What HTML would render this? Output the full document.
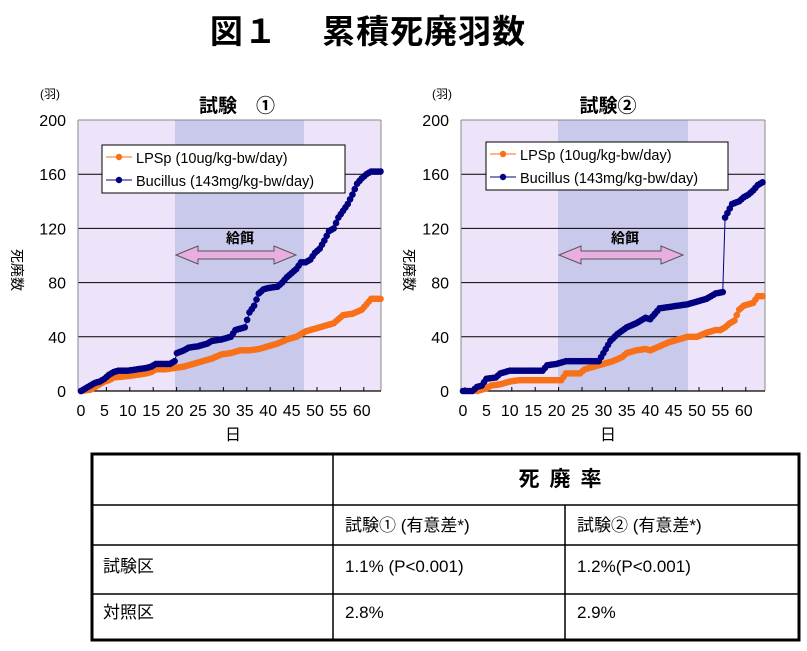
<!DOCTYPE html>
<html><head><meta charset="utf-8">
<style>
body{margin:0;background:#fff;width:807px;height:646px;overflow:hidden;font-family:"Liberation Sans","Noto Sans CJK JP",sans-serif;}
svg text{font-family:"Liberation Sans","Noto Sans CJK JP",sans-serif;}
</style></head>
<body>
<svg id="s" width="807" height="646" xmlns="http://www.w3.org/2000/svg">
<text x="368" y="43" font-size="33" font-weight="bold" text-anchor="middle" letter-spacing="1">図１　 累積死廃羽数</text>
<g id="c1"></g><g id="c2"></g>
<g stroke="#000" fill="none">
<rect x="92" y="454" width="707" height="186" stroke-width="3"/>
<line x1="92" y1="505" x2="799" y2="505" stroke-width="1.5"/>
<line x1="92" y1="545" x2="799" y2="545" stroke-width="1.5"/>
<line x1="92" y1="594" x2="799" y2="594" stroke-width="1.5"/>
<line x1="333" y1="454" x2="333" y2="640" stroke-width="1.5"/>
<line x1="565" y1="505" x2="565" y2="640" stroke-width="1.5"/>
</g>
<g font-size="17" font-family="'Liberation Mono','Noto Sans CJK JP',monospace">
<text x="565" y="486" font-size="21" font-weight="bold" text-anchor="middle" letter-spacing="10">死廃率</text>
<text x="345" y="531">試験① (有意差*)</text>
<text x="577" y="531">試験② (有意差*)</text>
<text x="103" y="572">試験区</text>
<text x="345" y="572">1.1% (P&lt;0.001)</text>
<text x="577" y="572">1.2%(P&lt;0.001)</text>
<text x="103" y="618">対照区</text>
<text x="345" y="618">2.8%</text>
<text x="577" y="618">2.9%</text>
</g>
</svg>
<script>
var NS="http://www.w3.org/2000/svg";
function el(p,t,a,txt){var e=document.createElementNS(NS,t);for(var k in a)e.setAttribute(k,a[k]);if(txt!=null)e.textContent=txt;p.appendChild(e);return e;}
function interp(kp,d){for(var i=0;i<kp.length-1;i++){if(d>=kp[i][0]&&d<=kp[i+1][0]){var a=kp[i],b=kp[i+1];return a[1]+(b[1]-a[1])*(d-a[0])/(b[0]-a[0]);}}return kp[kp.length-1][1];}
function chart(g,o){
 var L=o.L,R=o.R,T=120,B=391,x0=o.x0,dx=4.68,sy=(B-T)/200;
 el(g,"rect",{x:L,y:T,width:R-L,height:B-T,fill:"#eee4fa"});
 el(g,"rect",{x:o.s1,y:T,width:o.s2-o.s1,height:B-T,fill:"#c9c9eb"});
 [40,80,120,160].forEach(function(v){var y=B-v*sy;el(g,"line",{x1:L,y1:y,x2:R,y2:y,stroke:"#000","stroke-width":1});});
 el(g,"line",{x1:L,y1:T,x2:L,y2:B,stroke:"#888"});el(g,"line",{x1:R,y1:T,x2:R,y2:B,stroke:"#888"});
 el(g,"line",{x1:L,y1:T,x2:R,y2:T,stroke:"#888"});
 el(g,"line",{x1:L,y1:B,x2:R,y2:B,stroke:"#000","stroke-width":1.2});
 [0,40,80,120,160,200].forEach(function(v){el(g,"text",{x:L-12,y:B-v*sy+6,"font-size":16,"text-anchor":"end"},v);});
 for(var d=0;d<=60;d+=5){var x=x0+d*dx;el(g,"text",{x:x,y:416,"font-size":16,"text-anchor":"middle"},d);el(g,"line",{x1:x+2,y1:B,x2:x+2,y2:B-4,stroke:"#000"});}
 el(g,"text",{x:o.rx,y:440,"font-size":16,"text-anchor":"middle"},"日");
 el(g,"text",{x:o.ylx,y:98,"font-size":12},"(羽)");
 el(g,"text",{x:o.tx,y:112,"font-size":19,"font-weight":"bold","text-anchor":"middle"},o.title);
 el(g,"text",{x:0,y:0,"font-size":14,transform:"translate("+(o.vx)+",270) rotate(90)","text-anchor":"middle"},"死廃数");
 var a1=o.s1+1,a2=o.a2,y=255;
 el(g,"polygon",{points:[a1,y,a1+22,y-9,a1+22,y-4,a2-22,y-4,a2-22,y-9,a2,y,a2-22,y+9,a2-22,y+4,a1+22,y+4,a1+22,y+9].join(","),fill:"#e8aee0",stroke:"#555","stroke-width":1});
 el(g,"text",{x:(a1+a2)/2+4,y:243,"font-size":14,"font-weight":"bold","text-anchor":"middle"},"給餌");
 [[o.org,"#f87018"],[o.blu,"#000080"]].forEach(function(s){
  var kp=s[0],pts=[];for(var d=kp[0][0];d<=kp[kp.length-1][0]+0.01;d+=0.5){pts.push([x0+d*dx,B-interp(kp,d)*sy]);}
  el(g,"polyline",{points:pts.map(function(p){return p.join(",")}).join(" "),fill:"none",stroke:s[1],"stroke-width":1});
  pts.forEach(function(p){el(g,"circle",{cx:p[0],cy:p[1],r:3.3,fill:s[1]});});
 });
 var lx=o.lg[0],ly=o.lg[1];
 el(g,"rect",{x:lx,y:ly,width:o.lg[2],height:48,fill:"#fff",stroke:"#000"});
 el(g,"line",{x1:lx+4,y1:ly+12,x2:lx+30,y2:ly+12,stroke:"#f87018"});el(g,"circle",{cx:lx+17,cy:ly+12,r:3.2,fill:"#f87018"});
 el(g,"line",{x1:lx+4,y1:ly+35,x2:lx+30,y2:ly+35,stroke:"#000080"});el(g,"circle",{cx:lx+17,cy:ly+35,r:3.2,fill:"#000080"});
 el(g,"text",{x:lx+34,y:ly+18,"font-size":14.5},"LPSp (10ug/kg-bw/day)");
 el(g,"text",{x:lx+34,y:ly+41,"font-size":14.5},"Bucillus (143mg/kg-bw/day)");
}
chart(document.getElementById("c1"),{L:78,R:381,x0:81,s1:175,s2:304,a2:296,rx:233,ylx:40,tx:237,vx:12,title:"試験　①",lg:[102,145,243],
 org:[[0,0],[2,1],[3,3],[4,5],[5,7],[6,8],[7,10],[10,11],[12,12],[14,13],[15,14],[16,16],[18,16],[20,17],[22,18],[24,20],[26,22],[28,24],[30,27],[32,28],[34,30],[36,30],[38,31],[40,33],[42,35],[44,38],[46,40],[48,44],[50,46],[52,48],[54,50],[55,53],[56,56],[58,57],[60,60],[61,64],[62,68],[64,68]],
 blu:[[0,0],[1,2],[2,4],[3,6],[4,7],[5,9],[6,12],[7,14],[8,15],[10,15],[12,16],[14,17],[15,18],[16,20],[19,20],[20,22],[20.5,28],[22,30],[23,32],[25,33],[27,35],[28,37],[30,38],[32,40],[33,45],[35,47],[36,58],[37,63],[38,72],[39,75],[40,76],[42,77],[43,80],[44,84],[45,87],[46,90],[47,95],[48,95],[49,97],[50,102],[51,105],[52,111],[53,118],[54,120],[55,128],[56,133],[57,138],[58,145],[59,153],[60,157],[61,160],[62,162],[64,162]]});
chart(document.getElementById("c2"),{L:461,R:765,x0:463,s1:558,s2:688,a2:683,rx:608,ylx:432,tx:608,vx:404,title:"試験②",lg:[486,142,242],
 org:[[3,0],[5,2],[6,4],[8,5],[10,7],[12,8],[21,8],[22,13],[25,13],[26,16],[28,18],[30,20],[32,22],[34,25],[35,28],[37,30],[39,31],[40,30],[42,33],[44,36],[46,38],[48,40],[50,40],[52,43],[54,45],[55,45],[56,47],[57,50],[58,52],[59,60],[60,63],[62,65],[63,70],[64,70]],
 blu:[[0,0],[2,0],[3,3],[4,4],[5,9],[7,10],[8,13],[10,15],[17,15],[18,19],[20,20],[22,22],[29,22],[30,28],[31.5,37],[33,42],[35,47],[37,50],[39,54],[40,53],[41,57],[42,61],[44,62],[46,63],[48,64],[50,66],[52,68],[53,70],[54,72],[55.5,73],[55.9,73],[56,128],[57.5,138],[59,140],[60,143],[61,145],[62,148],[63,152],[64,154]]});
</script>
</body></html>
